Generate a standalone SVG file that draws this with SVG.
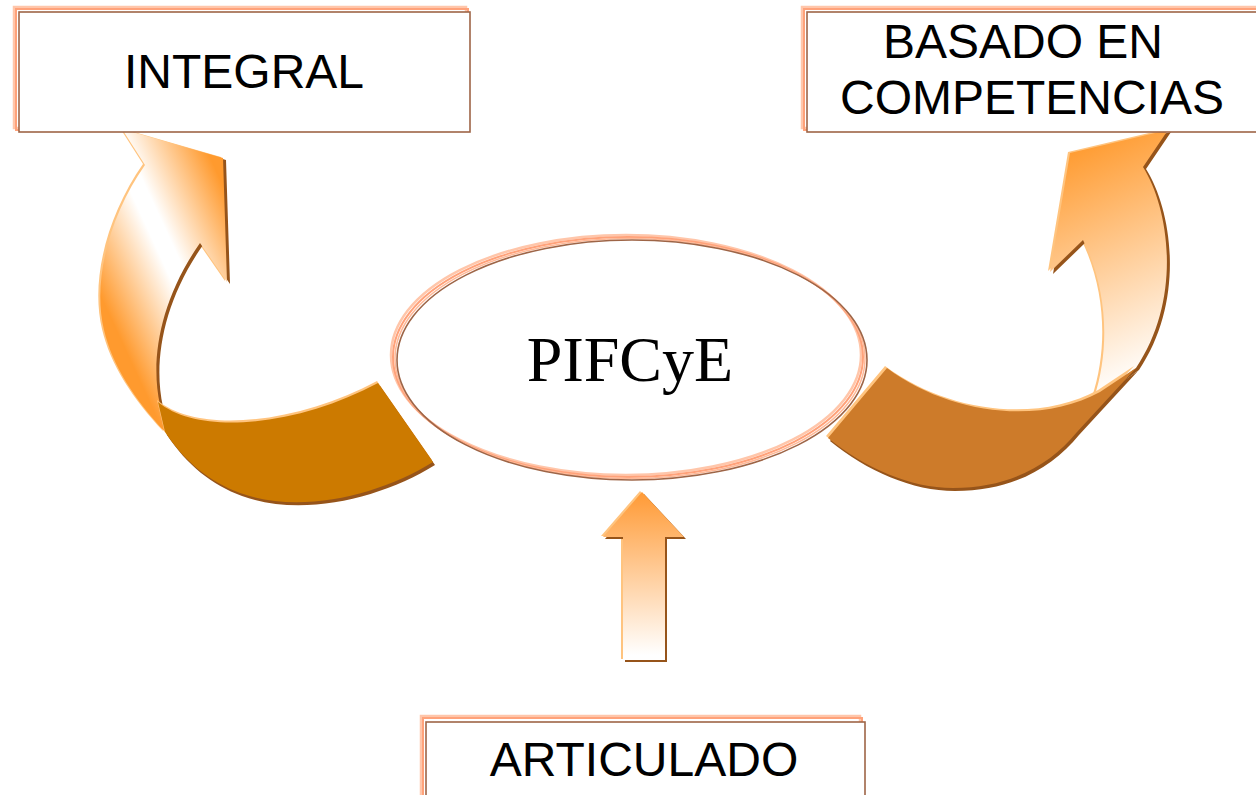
<svg xmlns="http://www.w3.org/2000/svg" xmlns:xlink="http://www.w3.org/1999/xlink" width="1256" height="795" viewBox="0 0 1256 795">
  <style>
    .f1 { fill: none; stroke: #FFC6AA; stroke-width: 2.5; }
    .f2 { fill: none; stroke: #FFA27A; stroke-width: 2; }
    .f3 { fill: #FFFFFF; stroke: #9E6547; stroke-width: 1.6; }
    .lbl { font-family: "Liberation Sans", Arial, sans-serif; font-size: 48px; fill: #000; text-anchor: middle; }
    .ctr { font-family: "Liberation Serif", "Times New Roman", serif; font-size: 64px; fill: #000; text-anchor: middle; }
    .shadow { fill: #96541A; }
    .hi { fill: #FFC47F; }
    .ring { fill: none; }
  </style>
  <defs>
    <linearGradient id="gL" gradientUnits="userSpaceOnUse" x1="85" y1="262" x2="228" y2="196">
      <stop offset="0" stop-color="#FF9A2E"/>
      <stop offset="0.45" stop-color="#FFFFFF"/>
      <stop offset="0.55" stop-color="#FFFFFF"/>
      <stop offset="1" stop-color="#FF9A2E"/>
    </linearGradient>
    <linearGradient id="gR" gradientUnits="userSpaceOnUse" x1="1062" y1="150" x2="1160" y2="370">
      <stop offset="0" stop-color="#FF9A2E"/>
      <stop offset="1" stop-color="#FFFFFF"/>
    </linearGradient>
    <linearGradient id="gU" gradientUnits="userSpaceOnUse" x1="0" y1="492" x2="0" y2="655">
      <stop offset="0" stop-color="#FF9A35"/>
      <stop offset="1" stop-color="#FFFFFF"/>
    </linearGradient>
    <path id="shaftL" d="M 160,405 C 150,360 160,300 200,243 L 227,282 L 223,158 L 122,129 L 145,165 C 110,215 92,280 104,330 C 112,365 135,400 165,432 Z"/>
    <path id="bandL" d="M 158,402 C 200,437 300,425 378,383 L 433,462 C 380,495 300,515 240,493 C 210,482 185,462 165,432 Z"/>
    <path id="shaftR" d="M 1094,398 C 1110,350 1108,290 1083,240 L 1050,272 L 1070,153 L 1168,130 L 1143,167 C 1170,210 1182,300 1136,368 Z"/>
    <path id="bandR" d="M 887,368 C 950,415 1040,425 1100,392 L 1136,368 L 1077,432 C 1050,465 1010,488 953,488 C 910,488 865,468 828,438 Z"/>
    <path id="arrowU" d="M 642,492 L 684,537 L 665,537 L 665,660 L 623,660 L 623,537 L 603,537 Z"/>
  </defs>

  <g id="connectors">
    <g id="arrow-left">
      <use xlink:href="#shaftL" class="hi" transform="translate(-2,-1)"/>
      <use xlink:href="#shaftL" class="shadow" transform="translate(3,2)"/>
      <use xlink:href="#shaftL" fill="url(#gL)"/>
      <use xlink:href="#bandL" class="hi" transform="translate(-1,-2)"/>
      <use xlink:href="#bandL" class="shadow" transform="translate(2,3)"/>
      <use xlink:href="#bandL" fill="#CC7A00"/>
    </g>
    <g id="arrow-right">
      <use xlink:href="#shaftR" class="hi" transform="translate(-2,-1)"/>
      <use xlink:href="#shaftR" class="shadow" transform="translate(3,2)"/>
      <use xlink:href="#shaftR" fill="url(#gR)"/>
      <use xlink:href="#bandR" class="hi" transform="translate(-2,-2)"/>
      <use xlink:href="#bandR" class="shadow" transform="translate(2,3)"/>
      <use xlink:href="#bandR" fill="#CD7B2A"/>
    </g>
    <g id="arrow-up">
      <use xlink:href="#arrowU" class="hi" transform="translate(-2,-1)"/>
      <use xlink:href="#arrowU" class="shadow" transform="translate(2,2)"/>
      <use xlink:href="#arrowU" fill="url(#gU)"/>
    </g>
  </g>

  <g id="node-integral">
    <rect class="f1" x="14" y="7" width="452" height="121"/>
    <rect class="f2" x="16" y="9" width="452" height="121"/>
    <rect class="f3" x="19" y="12" width="451" height="120"/>
    <text class="lbl" x="244" y="88">INTEGRAL</text>
  </g>

  <g id="node-basado">
    <rect class="f1" x="802" y="7" width="470" height="121"/>
    <rect class="f2" x="804" y="9" width="470" height="121"/>
    <rect class="f3" x="807" y="12" width="470" height="120"/>
    <text class="lbl" x="1023" y="58">BASADO EN</text>
    <text class="lbl" x="1032" y="114">COMPETENCIAS</text>
  </g>

  <g id="node-articulado">
    <rect class="f1" x="421" y="716" width="439" height="100"/>
    <rect class="f2" x="423" y="718" width="439" height="100"/>
    <rect class="f3" x="426" y="722" width="439" height="100"/>
    <text class="lbl" x="644" y="776">ARTICULADO</text>
  </g>

  <g id="node-pifcye">
    <ellipse cx="629" cy="357" rx="236" ry="121" fill="#FFFFFF"/>
    <ellipse class="ring" cx="626" cy="355" rx="235" ry="120" stroke="#FFC6AA" stroke-width="2.5"/>
    <ellipse class="ring" cx="628" cy="357" rx="235" ry="120" stroke="#FFA27A" stroke-width="2"/>
    <ellipse class="ring" cx="630" cy="358.5" rx="235" ry="120" stroke="#FFB896" stroke-width="1.5"/>
    <ellipse class="ring" cx="632" cy="360" rx="235" ry="120" stroke="#9E6547" stroke-width="1.6"/>
    <text class="ctr" x="630" y="381">PIFCyE</text>
  </g>
</svg>
